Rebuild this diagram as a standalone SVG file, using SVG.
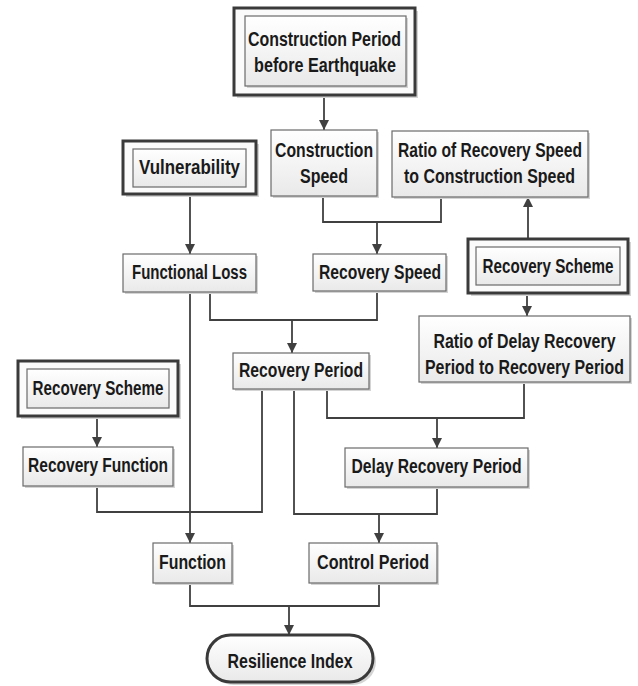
<svg xmlns="http://www.w3.org/2000/svg" width="638" height="686" viewBox="0 0 638 686">
<defs>
<linearGradient id="g" x1="0" y1="0" x2="0" y2="1">
<stop offset="0" stop-color="#ffffff"/>
<stop offset="1" stop-color="#e9e9e9"/>
</linearGradient>
<marker id="ah" viewBox="0 0 10 10" refX="10" refY="5" markerWidth="10" markerHeight="10" markerUnits="userSpaceOnUse" orient="auto">
<path d="M0,0 L10,5 L0,10 z" fill="#404040"/>
</marker>
<style>
.bx{fill:url(#g);stroke:#6a6a6a;stroke-width:1.2}
.sh{fill:#d4d4d4;stroke:none}
.ob{fill:#fbfbfb;stroke:#3a3a3a;stroke-width:3}
.pill{fill:url(#g);stroke:#3a3a3a;stroke-width:3}
.t{font-family:"Liberation Sans",Arial,sans-serif;font-weight:bold;font-size:20px;fill:#1a1a1a;text-anchor:middle}
.ln{fill:none;stroke:#404040;stroke-width:1.8}
.ar{fill:none;stroke:#404040;stroke-width:1.8;marker-end:url(#ah)}
</style>
</defs>
<rect width="638" height="686" fill="#ffffff"/>

<g id="connectors">
<path class="ar" d="M324,95 V130"/>
<path class="ar" d="M190,194 V254"/>
<path class="ln" d="M323,196 V222 H441 V197"/>
<path class="ar" d="M377,222 V254"/>
<path class="ar" d="M528,239 V197"/>
<path class="ar" d="M527,293 V316"/>
<path class="ln" d="M210,292 V320 H377 V291"/>
<path class="ar" d="M292,320 V353"/>
<path class="ar" d="M190,292 V543"/>
<path class="ar" d="M97,416 V447"/>
<path class="ln" d="M97,486 V512 H262 V389"/>
<path class="ln" d="M294,389 V514 H437 V487"/>
<path class="ar" d="M379,514 V543"/>
<path class="ln" d="M327,389 V418 H524 V382"/>
<path class="ar" d="M437,418 V448"/>
<path class="ln" d="M190,583 V606 H379 V583"/>
<path class="ar" d="M289,606 V635"/>
</g>

<g id="construction-period">
<rect class="sh" x="237" y="11" width="181" height="87"/>
<rect class="ob" x="234" y="8" width="181" height="87"/>
<rect class="sh" x="247" y="18" width="161" height="70"/>
<rect class="bx" x="245" y="16" width="161" height="70"/>
<text class="t" transform="translate(324.5,46) scale(0.8,1)" textLength="191.25" lengthAdjust="spacingAndGlyphs">Construction Period</text>
<text class="t" transform="translate(325,72) scale(0.8,1)" textLength="177.5" lengthAdjust="spacingAndGlyphs">before Earthquake</text>
</g>

<g id="vulnerability">
<rect class="sh" x="126" y="144" width="133" height="53"/>
<rect class="ob" x="123" y="141" width="133" height="53"/>
<rect class="bx" x="133" y="149" width="113" height="38"/>
<text class="t" transform="translate(189.5,174) scale(0.8,1)" textLength="126.25" lengthAdjust="spacingAndGlyphs">Vulnerability</text>
</g>

<g id="construction-speed">
<rect class="sh" x="273" y="132" width="106" height="66"/>
<rect class="bx" x="271" y="130" width="106" height="66"/>
<text class="t" transform="translate(324,157) scale(0.8,1)" textLength="122.5" lengthAdjust="spacingAndGlyphs">Construction</text>
<text class="t" transform="translate(324,183) scale(0.8,1)" textLength="60" lengthAdjust="spacingAndGlyphs">Speed</text>
</g>

<g id="ratio-speed">
<rect class="sh" x="394" y="133" width="196" height="66"/>
<rect class="bx" x="392" y="131" width="196" height="66"/>
<text class="t" transform="translate(490,157) scale(0.8,1)" textLength="230" lengthAdjust="spacingAndGlyphs">Ratio of Recovery Speed</text>
<text class="t" transform="translate(489.5,183) scale(0.8,1)" textLength="213.75" lengthAdjust="spacingAndGlyphs">to Construction Speed</text>
</g>

<g id="functional-loss">
<rect class="sh" x="125" y="256" width="133" height="38"/>
<rect class="bx" x="123" y="254" width="133" height="38"/>
<text class="t" transform="translate(189.5,279) scale(0.8,1)" textLength="143.75" lengthAdjust="spacingAndGlyphs">Functional Loss</text>
</g>

<g id="recovery-speed">
<rect class="sh" x="315" y="256" width="133" height="37"/>
<rect class="bx" x="313" y="254" width="133" height="37"/>
<text class="t" transform="translate(380,279) scale(0.8,1)" textLength="152.5" lengthAdjust="spacingAndGlyphs">Recovery Speed</text>
</g>

<g id="recovery-scheme-right">
<rect class="sh" x="471" y="242" width="160" height="54"/>
<rect class="ob" x="468" y="239" width="160" height="54"/>
<rect class="bx" x="476" y="247" width="144" height="38"/>
<text class="t" transform="translate(548,273) scale(0.8,1)" textLength="163.75" lengthAdjust="spacingAndGlyphs">Recovery Scheme</text>
</g>

<g id="ratio-delay">
<rect class="sh" x="421" y="318" width="211" height="66"/>
<rect class="bx" x="419" y="316" width="211" height="66"/>
<text class="t" transform="translate(524.5,348) scale(0.8,1)" textLength="227.5" lengthAdjust="spacingAndGlyphs">Ratio of Delay Recovery</text>
<text class="t" transform="translate(524.5,374) scale(0.8,1)" textLength="248.75" lengthAdjust="spacingAndGlyphs">Period to Recovery Period</text>
</g>

<g id="recovery-period">
<rect class="sh" x="235" y="355" width="136" height="36"/>
<rect class="bx" x="233" y="353" width="136" height="36"/>
<text class="t" transform="translate(301,377) scale(0.8,1)" textLength="155" lengthAdjust="spacingAndGlyphs">Recovery Period</text>
</g>

<g id="recovery-scheme-left">
<rect class="sh" x="21" y="364" width="160" height="55"/>
<rect class="ob" x="18" y="361" width="160" height="55"/>
<rect class="bx" x="27" y="369" width="142" height="39"/>
<text class="t" transform="translate(98,395) scale(0.8,1)" textLength="163.75" lengthAdjust="spacingAndGlyphs">Recovery Scheme</text>
</g>

<g id="recovery-function">
<rect class="sh" x="25" y="449" width="150" height="39"/>
<rect class="bx" x="23" y="447" width="150" height="39"/>
<text class="t" transform="translate(98,472) scale(0.8,1)" textLength="175" lengthAdjust="spacingAndGlyphs">Recovery Function</text>
</g>

<g id="delay-recovery-period">
<rect class="sh" x="347" y="450" width="183" height="39"/>
<rect class="bx" x="345" y="448" width="183" height="39"/>
<text class="t" transform="translate(436.5,473) scale(0.8,1)" textLength="212.5" lengthAdjust="spacingAndGlyphs">Delay Recovery Period</text>
</g>

<g id="function">
<rect class="sh" x="155" y="545" width="79" height="40"/>
<rect class="bx" x="153" y="543" width="79" height="40"/>
<text class="t" transform="translate(192.5,569) scale(0.8,1)" textLength="83.75" lengthAdjust="spacingAndGlyphs">Function</text>
</g>

<g id="control-period">
<rect class="sh" x="311" y="545" width="128" height="40"/>
<rect class="bx" x="309" y="543" width="128" height="40"/>
<text class="t" transform="translate(373,569) scale(0.8,1)" textLength="140" lengthAdjust="spacingAndGlyphs">Control Period</text>
</g>

<g id="resilience-index">
<rect class="sh" x="210" y="638" width="166" height="47" rx="23.5"/>
<rect class="pill" x="207" y="635" width="166" height="47" rx="23.5"/>
<text class="t" transform="translate(290,668) scale(0.8,1)" textLength="156.25" lengthAdjust="spacingAndGlyphs">Resilience Index</text>
</g>
</svg>
